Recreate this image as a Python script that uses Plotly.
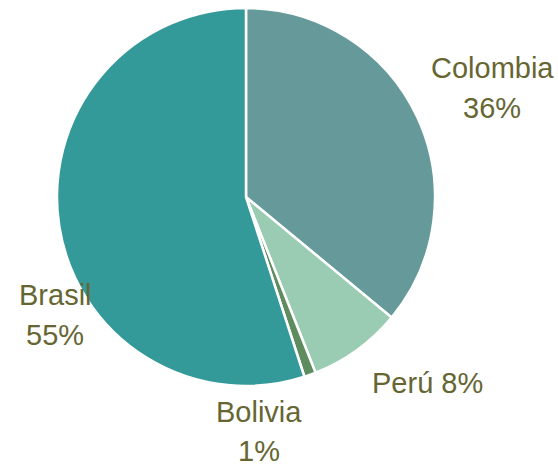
import plotly.graph_objects as go

countries = ["Colombia", "Perú", "Bolivia", "Brasil"]
shares = [36, 8, 1, 55]
slice_colors = ["#669999", "#99CCB3", "#5E8C5E", "#339999"]

W, H = 558, 469
cx, cy, r = 246, 197, 189

# label anchors in pixels: (x centre, first line y, second line y or None)
label_px = [(492, 68, 108), (427, 383, None), (259, 412, 451), (55, 295, 335)]

fig = go.Figure(
    go.Pie(
        labels=countries,
        values=shares,
        sort=False,
        direction="clockwise",
        rotation=0,
        marker=dict(colors=slice_colors, line=dict(color="white", width=2.5)),
        textinfo="none",
        hoverinfo="label+percent",
        showlegend=False,
        domain=dict(
            x=[(cx - r) / W, (cx + r) / W],
            y=[1 - (cy + r) / H, 1 - (cy - r) / H],
        ),
    )
)

font = dict(family="Liberation Sans, Arial, sans-serif", size=29, color="#666633")
total = sum(shares)
annotations = []


def add_line(text, px, py):
    annotations.append(
        dict(
            x=px / W, y=1 - py / H, xref="paper", yref="paper",
            text=text, showarrow=False, borderpad=0,
            xanchor="center", yanchor="middle", font=font,
        )
    )


for name, v, (px, y1, y2) in zip(countries, shares, label_px):
    pct = f"{round(100 * v / total)}%"
    if y2 is None:
        add_line(f"{name} {pct}", px, y1)
    else:
        add_line(name, px, y1)
        add_line(pct, px, y2)

fig.update_layout(
    width=W, height=H,
    margin=dict(l=0, r=0, t=0, b=0),
    paper_bgcolor="white",
    plot_bgcolor="white",
    annotations=annotations,
)

fig.write_html("out.html")
